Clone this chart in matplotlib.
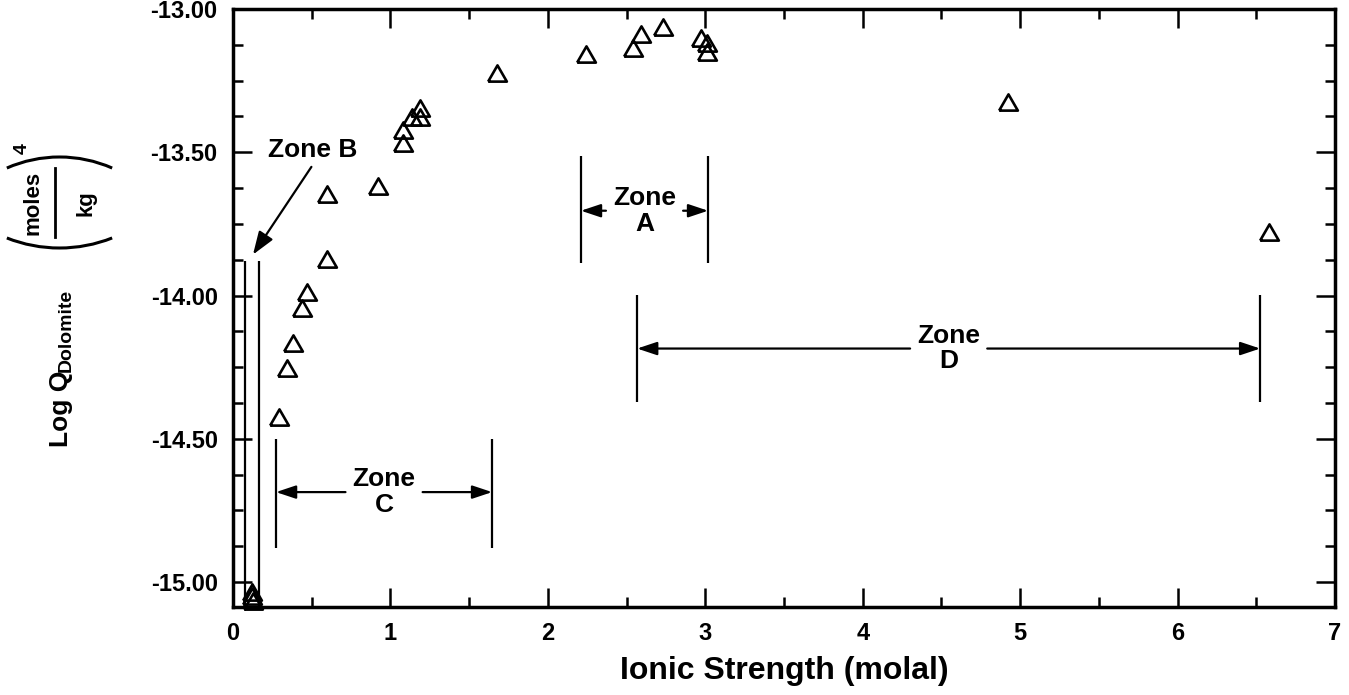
import matplotlib
matplotlib.use("Agg")
import matplotlib.pyplot as plt
from matplotlib.ticker import MultipleLocator, FormatStrFormatter
from matplotlib.patches import Arc

plt.rcParams['font.family'] = ['Liberation Sans', 'DejaVu Sans']
plt.rcParams['font.weight'] = 'bold'

# --- data ---
ionic_strength = [0.12, 0.12, 0.13, 0.29, 0.34, 0.38, 0.44, 0.47, 0.60, 0.60,
                  0.92, 1.08, 1.08, 1.14, 1.19, 1.19, 1.68, 2.24, 2.54, 2.59,
                  2.73, 2.97, 3.01, 3.01, 4.92, 6.58]
log_q = [-15.035, -15.05, -15.065, -14.425, -14.254, -14.167, -14.042, -13.986,
         -13.871, -13.645, -13.617, -13.467, -13.422, -13.376, -13.376, -13.346,
         -13.223, -13.157, -13.136, -13.087, -13.063, -13.101, -13.118, -13.150,
         -13.324, -13.777]

# zones drawn as bracket + double arrow
zone_labels = ['Zone\nA', 'Zone\nC', 'Zone\nD']
zone_left = [2.21, 0.273, 2.567]
zone_right = [3.018, 1.646, 6.525]
zone_top = [-13.512, -14.50, -13.997]
zone_bottom = [-13.885, -14.88, -14.373]
zone_mid = [-13.704, -14.686, -14.185]

# zone B: two lines near the origin + pointer
zone_b_x = [0.076, 0.166]
zone_b_top = -13.88
zone_b_text = (0.508, -13.491)
zone_b_tip = (0.127, -13.857)

fig = plt.figure(figsize=(13.49, 6.95), dpi=100)
ax = fig.add_axes([233 / 1349, 88 / 695, 1102 / 1349, 598 / 695])

tri = [(-1, -0.866), (1, -0.866), (0, 0.866), (-1, -0.866)]
ax.plot(ionic_strength, log_q, linestyle='none', marker=tri, ms=13.5,
        mfc='none', mec='black', mew=1.9, clip_on=False, zorder=3)

ax.set_xlim(0, 7)
ax.set_ylim(-15.087, -13.0)
ax.xaxis.set_major_locator(MultipleLocator(1))
ax.xaxis.set_minor_locator(MultipleLocator(0.5))
ax.yaxis.set_major_locator(MultipleLocator(0.5))
ax.yaxis.set_minor_locator(MultipleLocator(0.125))
ax.yaxis.set_major_formatter(FormatStrFormatter('%.2f'))
ax.tick_params(which='both', direction='in', top=True, right=True, width=1.8)
ax.tick_params(which='major', length=14, labelsize=17)
ax.tick_params(which='minor', length=7)
ax.tick_params(axis='x', pad=11)
ax.tick_params(axis='y', pad=11)
for sp in ax.spines.values():
    sp.set_linewidth(2.5)

ax.set_xlabel('Ionic Strength (molal)', fontsize=23, fontweight='bold', labelpad=8)

# zones A, C, D
gap = 0.245
for lab, x0, x1, yt, yb, ym in zip(zone_labels, zone_left, zone_right,
                                    zone_top, zone_bottom, zone_mid):
    ax.vlines([x0, x1], yb, yt, colors='black', lw=1.6)
    cx = (x0 + x1) / 2
    ax.text(cx, ym, lab, ha='center', va='center', fontsize=19,
            fontweight='bold', linespacing=1.1)
    for xs, xe in ((cx - gap, x0), (cx + gap, x1)):
        ax.annotate('', xy=(xe, ym), xytext=(xs, ym),
                    arrowprops=dict(arrowstyle='-|>,head_length=0.6,head_width=0.2',
                                    color='black', lw=1.6, mutation_scale=20,
                                    shrinkA=0, shrinkB=0))

# zone B
ax.vlines(zone_b_x, -15.087, zone_b_top, colors='black', lw=1.6)
ax.text(zone_b_text[0], zone_b_text[1], 'Zone B', ha='center', va='center',
        fontsize=19, fontweight='bold')
ax.annotate('', xy=zone_b_tip, xytext=(zone_b_text[0] - 0.01, zone_b_text[1] - 0.06),
            arrowprops=dict(arrowstyle='-|>,head_length=0.7,head_width=0.25',
                            color='black', lw=1.6, mutation_scale=20,
                            shrinkA=0, shrinkB=0))

# y label built in pixel space: Log Q_Dolomite (moles/kg)^4
lab = fig.add_axes([0, 0, 1, 1], zorder=-1)
lab.set_xlim(0, 1349)
lab.set_ylim(0, 695)
lab.axis('off')
rot = dict(rotation=90, rotation_mode='anchor', fontweight='bold')
lab.text(68, 248, 'Log Q', ha='left', va='baseline', fontsize=19, **rot)
lab.text(71, 323, 'Dolomite', ha='left', va='baseline', fontsize=14, **rot)
lab.text(38, 492, 'moles', ha='center', va='baseline', fontsize=16, **rot)
lab.text(92, 492, 'kg', ha='center', va='baseline', fontsize=16, **rot)
lab.text(27, 546, '4', ha='center', va='baseline', fontsize=14, **rot)
lab.plot([55, 55], [458, 527], color='black', lw=2)
lab.add_patch(Arc((59.5, 407), 2 * 131, 2 * 131, theta1=66.3, theta2=113.7,
                  color='black', lw=2.2))
lab.add_patch(Arc((59.5, 590), 2 * 143, 2 * 143, theta1=248.4, theta2=291.6,
                  color='black', lw=2.2))

fig.savefig('out.png', dpi=100)
